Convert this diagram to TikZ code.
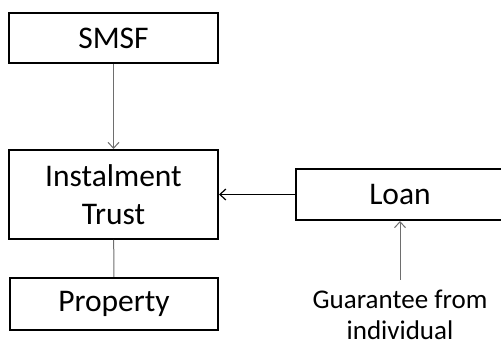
\documentclass[tikz,border=0pt]{standalone}
\usepackage{fontspec}
\setmainfont{Carlito}
\usetikzlibrary{arrows.meta,positioning}
\definecolor{linkgray}{RGB}{110,110,110}
\tikzset{
  entity/.style={rectangle, draw=black, line width=2pt, inner sep=0pt, font=\fontsize{31.5}{36}\selectfont, align=center},
  flow/.style={-{Straight Barb[length=6pt,width=11pt]}, line width=1pt, draw=linkgray},
  mainflow/.style={-{Straight Barb[length=6pt,width=11pt]}, line width=1.2pt, draw=black},
  link/.style={line width=1pt, draw=linkgray},
  note/.style={font=\fontsize{27}{31}\selectfont, align=center, inner sep=0pt}
}
\begin{document}
\begin{tikzpicture}[x=1pt,y=-1pt]
  \useasboundingbox (0,0) rectangle (501,344);
  % entities on the left
  \node[entity, minimum width=209pt, minimum height=50pt] (SMSF) at (113.5,38) {SMSF};
  \node[entity, minimum width=209pt, minimum height=89pt] (Trust) at (113.5,194.5) {Instalment\\[2pt]Trust};
  \node[entity, minimum width=208pt, minimum height=52pt] (Property) at (114,304) {Property};

  % lender side
  \node[entity, minimum width=210pt, minimum height=51pt, text width=200pt] (Loan) at (401,194.5) {\hspace*{-2pt}Loan};
  \node[note] (Guar) at (400,315) {Guarantee from\\individual};
  \coordinate (gtop) at (400,280);

  % connectors
  \draw[flow] (SMSF) -- (Trust);
  \draw[link] (Trust) -- (Property);
  \draw[mainflow] (Loan.west) -- (Trust.east);
  \draw[flow] (gtop) -- (Loan.south -| gtop);
\end{tikzpicture}
\end{document}
